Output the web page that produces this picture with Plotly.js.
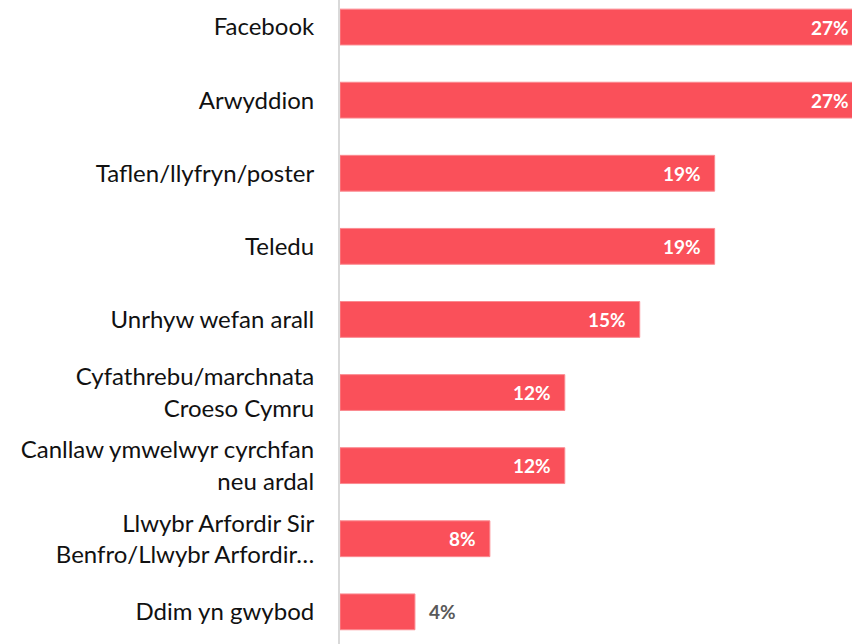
<!DOCTYPE html>
<html>
<head>
<meta charset="utf-8">
<script src="https://cdn.plot.ly/plotly-3.0.1.min.js"></script>
<style>
html,body{margin:0;padding:0;overflow:hidden;background:#fff;width:852px;height:644px;}
#chart{width:872px;height:644px;}
</style>
</head>
<body>
<div id="chart"></div>
<script>
const categories = [
  "Facebook",
  "Arwyddion",
  "Taflen/llyfryn/poster",
  "Teledu",
  "Unrhyw wefan arall",
  "Cyfathrebu/marchnata<br>Croeso Cymru",
  "Canllaw ymwelwyr cyrchfan<br>neu ardal",
  "Llwybr Arfordir Sir<br>Benfro/Llwybr Arfordir…",
  "Ddim yn gwybod"
];
// bar lengths
const values = [27.9, 27.9, 20, 20, 16, 12, 12, 8, 4];
const labels = ["27%", "27%", "19%", "19%", "15%", "12%", "12%", "8%", "4%"];

const trace = {
  type: "bar",
  orientation: "h",
  y: categories,
  x: values,
  textposition: "none",
  marker: {color: "#FA505A", line: {color: "#FB8A90", width: 1}},
  width: 0.49,
  hoverinfo: "none"
};

const annotations = categories.map((c, i) => {
  const inside = values[i] >= 6;
  return {
    x: values[i], y: c, xref: "x", yref: "y",
    text: labels[i], showarrow: false,
    xanchor: inside ? "right" : "left",
    xshift: inside ? -12 : 12,
    font: {family: "Lato, sans-serif", size: 19, weight: "bold", color: inside ? "#ffffff" : "#595959"}
  };
});

const layout = {
  width: 872,
  height: 644,
  margin: {l: 340, r: 0, t: 0, b: 0, pad: 0},
  paper_bgcolor: "#ffffff",
  plot_bgcolor: "#ffffff",
  showlegend: false,
  annotations: annotations,
  xaxis: {range: [0, 28.4], showgrid: false, zeroline: false, showticklabels: false, showline: false, fixedrange: true},
  yaxis: {
    type: "category",
    categoryorder: "array",
    categoryarray: categories,
    range: [8.44, -0.37],
    showline: true, linecolor: "#d9d9d9", linewidth: 2,
    showgrid: false, zeroline: false, ticks: "",
    ticklabelstandoff: 19,
    tickfont: {family: "Lato, sans-serif", size: 24, color: "#111111"},
    fixedrange: true
  }
};

Plotly.newPlot("chart", [trace], layout, {displayModeBar: false, staticPlot: true});
</script>
</body>
</html>
